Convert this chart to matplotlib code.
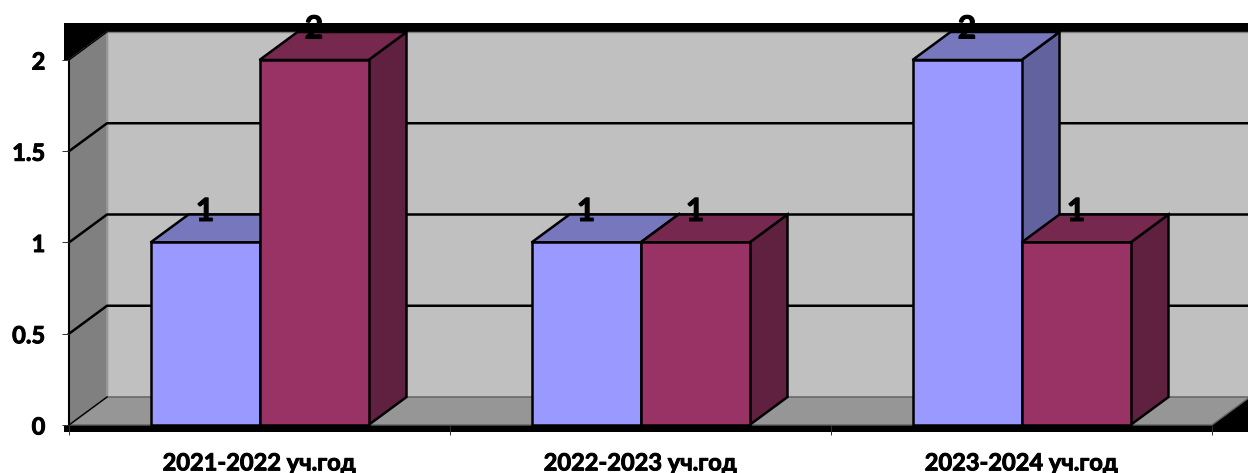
import matplotlib
matplotlib.use('Agg')
import matplotlib.pyplot as plt
from matplotlib.patches import Polygon, Rectangle
import matplotlib.patheffects as pe

plt.rcParams['font.family'] = ['Lato', 'Open Sans', 'DejaVu Sans']

categories = ['2021-2022 уч.год', '2022-2023 уч.год', '2023-2024 уч.год']
series_a = [1, 1, 2]
series_b = [2, 1, 1]
y_ticks = [0, 0.5, 1, 1.5, 2]
y_labels = ['0', '0.5', '1', '1.5', '2']

W, H = 1248, 473
LEFT, RIGHT, BASE, TOP = 69, 1212, 425, 60

fig = plt.figure(figsize=(W / 100, H / 100), dpi=100)
ax = fig.add_axes([LEFT / W, (H - BASE) / H, (RIGHT - LEFT) / W, (BASE - TOP) / H])
ax.set_xlim(0, 3)
ax.set_ylim(0, 2)

# one pixel in data units
px = 3 / (RIGHT - LEFT)
py = 2 / (BASE - TOP)
# depth of the fake 3d box
dx = 38 * px
dy = 28 * py
bar_w = 109 * px
# text looks thin in Lato, thicken it a bit
heavy = [pe.withStroke(linewidth=0.7, foreground='black')]


def poly(pts, fc, ec='black', lw=1.8, z=1):
    ax.add_patch(Polygon(pts, closed=True, facecolor=fc, edgecolor=ec, linewidth=lw,
                         joinstyle='miter', clip_on=False, zorder=z))


# black frame behind the walls, white strip below the top left corner
ax.add_patch(Rectangle((-5 * px, -7 * py), 3 + 45 * px, 2 + 44 * py, facecolor='black',
                       edgecolor='none', clip_on=False, zorder=0))
ax.add_patch(Rectangle((-5 * px, 0), 4 * px, 2, facecolor='white',
                       edgecolor='none', clip_on=False, zorder=0.1))

# walls and floor
poly([(dx, dy), (3 + dx, dy), (3 + dx, 2 + dy), (dx, 2 + dy)], '#C0C0C0', '#808080', 1, 1)
poly([(0, 0), (dx, dy), (dx, 2 + dy), (0, 2)], '#808080', '#A0A0A0', 1, 1.1)
poly([(0, 0), (3, 0), (3 + dx, dy), (dx, dy)], '#969696', '#606060', 1, 1.2)
ax.plot([0, 0], [0, 2], color='black', lw=1.5, clip_on=False, zorder=1.3)
ax.plot([0, dx], [2, 2 + dy], color='black', lw=1, clip_on=False, zorder=1.3)

# grid lines on both walls
for v in y_ticks[1:-1]:
    ax.plot([0, dx, 3 + dx], [v, v + dy, v + dy], color='black', lw=1.8,
            clip_on=False, zorder=1.4)
ax.plot([0, dx], [0, dy], color='black', lw=1, clip_on=False, zorder=1.4)

colors_a = ('#9999FF', '#7777BD', '#62629F')
colors_b = ('#993366', '#77284F', '#602040')

z = 2
for i in range(len(categories)):
    for j, (vals, cols) in enumerate([(series_a, colors_a), (series_b, colors_b)]):
        x0 = i + 0.5 + (j - 1) * bar_w
        v = vals[i]
        poly([(x0 + bar_w, 0), (x0 + bar_w + dx, dy), (x0 + bar_w + dx, v + dy), (x0 + bar_w, v)],
             cols[2], z=z)
        poly([(x0, v), (x0 + bar_w, v), (x0 + bar_w + dx, v + dy), (x0 + dx, v + dy)],
             cols[1], z=z)
        ax.bar(x0, v, width=bar_w, align='edge', color=cols[0], edgecolor='black',
               linewidth=1.8, clip_on=False, zorder=z + 0.5)
        ax.text(x0 + bar_w / 2, v + 31 * py, str(v), ha='center', va='center', fontsize=23,
                fontweight='bold', color='black', clip_on=False, zorder=20, path_effects=heavy)
        z += 1

for s in ax.spines.values():
    s.set_visible(False)

ax.set_yticks(y_ticks)
ax.set_yticklabels(y_labels, fontsize=17, fontweight='bold', path_effects=heavy)
ax.tick_params(axis='y', length=5, width=0.7, pad=12, color='#303030')
ax.set_xticks([0, 1, 2, 3])
ax.set_xticklabels([])
ax.tick_params(axis='x', which='major', length=7, width=0.7, color='#303030')
ax.set_xticks([0.5, 1.5, 2.5], minor=True)
ax.set_xticklabels(categories, minor=True, fontsize=17, fontweight='bold', path_effects=heavy)
ax.tick_params(axis='x', which='minor', length=0, pad=19)

fig.savefig('out.png', dpi=100)
